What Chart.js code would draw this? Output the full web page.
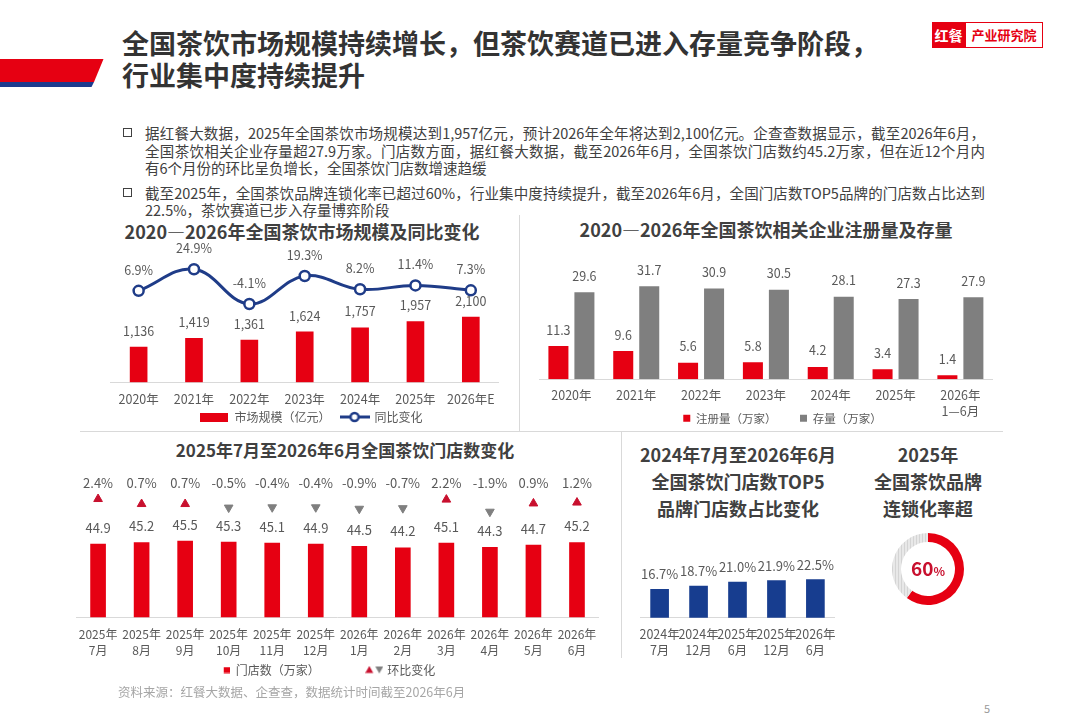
<!DOCTYPE html>
<html lang="zh-CN">
<head>
<meta charset="utf-8">
<title>全国茶饮市场规模持续增长</title>
<script src="https://cdn.jsdelivr.net/npm/chart.js@4.4.1/dist/chart.umd.min.js"></script>
<style>
  html, body { margin: 0; padding: 0; background: #fff; }
  #page { position: relative; width: 1080px; height: 719px; overflow: hidden;
          font-family: "Noto Sans CJK SC", "Noto Sans", sans-serif; color: #404040; }
  .abs { position: absolute; }
  .main-title { left: 122px; top: 27px; font-size: 27px; line-height: 32px; font-weight: 700; color: #333; white-space: nowrap; }
  .logo-red { left: 932px; top: 22px; width: 33px; height: 26px; background: #E60012; color: #fff;
              font-size: 14px; font-weight: 700; line-height: 26px; text-align: center; }
  .logo-txt { left: 965px; top: 22px; width: 76px; height: 24px; border: 1px solid #E60012; color: #E60012;
              font-size: 13px; font-weight: 700; line-height: 24px; text-align: center; }
  .line { left: 145px; width: 840px; height: 18px; line-height: 18px; font-size: 14.5px; white-space: nowrap; color: #404040; }
  .full { text-align: justify; text-align-last: justify; }
  .box { width: 7px; height: 7px; border: 1.5px solid #404040; }
  .ctitle { font-size: 18px; font-weight: 700; color: #404040; text-align: center; white-space: nowrap; line-height: 24px; }
  .chart { position: absolute; }
  .hline { height: 1px; background: #D9D9D9; }
  .vline { width: 1px; background: #D9D9D9; }
</style>
</head>
<body>
<div id="page">
  <svg class="abs" style="left:0;top:0" width="120" height="100">
    <polygon points="0,59 103.5,59 94,82 0,82" fill="#E60012"/>
    <polygon points="0,82 94,82 91.5,87 0,87" fill="#1D3B8E"/>
  </svg>
  <div class="abs main-title">全国茶饮市场规模持续增长，但茶饮赛道已进入存量竞争阶段，<br>行业集中度持续提升</div>
  <div class="abs logo-red">红餐</div>
  <div class="abs logo-txt">产业研究院</div>

  <div class="abs box" style="left:123px;top:128px"></div>
  <div class="abs line full" style="top:124px">据红餐大数据，2025年全国茶饮市场规模达到1,957亿元，预计2026年全年将达到2,100亿元。企查查数据显示，截至2026年6月，</div>
  <div class="abs line full" style="top:142px">全国茶饮相关企业存量超27.9万家。门店数方面，据红餐大数据，截至2026年6月，全国茶饮门店数约45.2万家，但在近12个月内</div>
  <div class="abs line" style="top:159px">有6个月份的环比呈负增长，全国茶饮门店数增速趋缓</div>
  <div class="abs box" style="left:123px;top:188px"></div>
  <div class="abs line full" style="top:184px">截至2025年，全国茶饮品牌连锁化率已超过60%，行业集中度持续提升，截至2026年6月，全国门店数TOP5品牌的门店数占比达到</div>
  <div class="abs line" style="top:201px">22.5%，茶饮赛道已步入存量博弈阶段</div>

  <div class="abs vline" style="left:519px;top:215px;height:216px"></div>
  <div class="abs hline" style="left:80px;top:431px;width:923px"></div>
  <div class="abs vline" style="left:621px;top:432px;height:226px"></div>

  <div class="abs ctitle" style="left:102px;top:219px;width:400px">2020—2026年全国茶饮市场规模及同比变化</div>
  <div class="abs ctitle" style="left:566px;top:217px;width:400px">2020—2026年全国茶饮相关企业注册量及存量</div>
  <div class="abs ctitle" style="left:145px;top:438px;width:400px;font-size:17px">2025年7月至2026年6月全国茶饮门店数变化</div>
  <div class="abs ctitle" style="left:638px;top:441px;width:200px;line-height:27px">2024年7月至2026年6月<br>全国茶饮门店数TOP5<br>品牌门店数占比变化</div>
  <div class="abs ctitle" style="left:828px;top:441px;width:200px;line-height:27px">2025年<br>全国茶饮品牌<br>连锁化率超</div>

  <div class="chart" style="left:109px;top:234px;width:405px;height:199px"><canvas id="c1"></canvas></div>
  <div class="chart" style="left:539px;top:250px;width:487px;height:184px"><canvas id="c2"></canvas></div>
  <div class="chart" style="left:46px;top:470px;width:559px;height:216px"><canvas id="c3"></canvas></div>
  <div class="chart" style="left:632px;top:545px;width:211px;height:125px"><canvas id="c4"></canvas></div>
  <div class="chart" style="left:892px;top:533px;width:72px;height:72px"><canvas id="c5"></canvas></div>

  <div class="abs" style="left:118px;top:683px;font-size:12.5px;line-height:18px;color:#A6A6A6;white-space:nowrap">资料来源：红餐大数据、企查查，数据统计时间截至2026年6月</div>
  <div class="abs" style="left:984px;top:700px;font-size:11px;line-height:16px;color:#999">5</div>
</div>

<script>
// 市场规模及同比
const years = ['2020年', '2021年', '2022年', '2023年', '2024年', '2025年', '2026年E'];
const marketSize = [1136, 1419, 1361, 1624, 1757, 1957, 2100];
const marketYoY = [6.9, 24.9, -4.1, 19.3, 8.2, 11.4, 7.3];

// 企业注册量及存量
const regYears = ['2020年', '2021年', '2022年', '2023年', '2024年', '2025年', ['2026年', '1—6月']];
const regNew = [11.3, 9.6, 5.6, 5.8, 4.2, 3.4, 1.4];
const regStock = [29.6, 31.7, 30.9, 30.5, 28.1, 27.3, 27.9];

// 门店数变化
const months = [['2025年', '7月'], ['2025年', '8月'], ['2025年', '9月'], ['2025年', '10月'], ['2025年', '11月'], ['2025年', '12月'],
                ['2026年', '1月'], ['2026年', '2月'], ['2026年', '3月'], ['2026年', '4月'], ['2026年', '5月'], ['2026年', '6月']];
const storeCount = [44.9, 45.2, 45.5, 45.3, 45.1, 44.9, 44.5, 44.2, 45.1, 44.3, 44.7, 45.2];
const storeMoM = [2.4, 0.7, 0.7, -0.5, -0.4, -0.4, -0.9, -0.7, 2.2, -1.9, 0.9, 1.2];

// TOP5 占比
const top5Periods = [['2024年', '7月'], ['2024年', '12月'], ['2025年', '6月'], ['2025年', '12月'], ['2026年', '6月']];
const top5Share = [16.7, 18.7, 21.0, 21.9, 22.5];

// 连锁化率
const chainRate = 60;

const RED = '#E60012';
const DARKRED = '#C8102E';
const NAVY = '#1F3C88';
const BLUE = '#173D8F';
const GRAY = '#7F7F7F';
const FONT = '"Noto Sans CJK SC", "Noto Sans", sans-serif';

Chart.defaults.font.family = FONT;
Chart.defaults.color = '#595959';
Chart.defaults.animation = false;
Chart.defaults.plugins.tooltip.enabled = false;

// 轴标签不按轴盒裁切（图例和第二行标签在原图里是重叠排布的）
Chart.register({
    id: 'noTickClip',
    afterLayout(chart) {
        Object.values(chart.scales).forEach(s => { s._computeLabelArea = () => undefined; });
    }
});

const fmtPct = v => v.toFixed(1) + '%';
const fmtNum = v => v.toLocaleString('en-US');
const fixH = h => axis => { axis.height = h; };
const fixW = w => axis => { axis.width = w; };

function makeCanvas(w, h, draw) {
    const c = document.createElement('canvas');
    c.width = w;
    c.height = h;
    draw(c.getContext('2d'));
    return c;
}

// 空白占位轴，只用来挪动图例中心
function spacer(position, w) {
    return { position, display: true, grid: { display: false, drawTicks: false }, border: { display: false },
             ticks: { display: false }, afterFit: fixW(w) };
}

function xAxis(size, lineHeight, padding, h) {
    return {
        grid: { display: false, drawTicks: false },
        border: { color: '#D9D9D9' },
        ticks: { font: { size, lineHeight }, padding, autoSkip: false, maxRotation: 0, minRotation: 0 },
        afterFit: fixH(h)
    };
}

// 数据标签
const valueLabels = {
    id: 'valueLabels',
    afterDatasetsDraw(chart) {
        const ctx = chart.ctx;
        chart.data.datasets.forEach((ds, i) => {
            const cfg = ds.valueLabel;
            if (!cfg) return;
            const meta = chart.getDatasetMeta(i);
            ctx.save();
            ctx.font = cfg.font || '13px ' + FONT;
            ctx.fillStyle = '#595959';
            ctx.textAlign = 'center';
            ctx.textBaseline = 'middle';
            meta.data.forEach((el, j) => {
                const y = cfg.top !== undefined ? chart.chartArea.top + cfg.top : el.y - cfg.offset;
                ctx.fillText(cfg.format(ds.data[j]), el.x, y);
            });
            ctx.restore();
        });
    }
};

function byIndex(extra) {
    return function (chart) {
        const items = Chart.defaults.plugins.legend.labels.generateLabels(chart);
        items.sort((a, b) => a.datasetIndex - b.datasetIndex);
        extra(items);
        return items;
    };
}

// 图一：市场规模及同比变化
const barKey1 = makeCanvas(28, 9, ctx => { ctx.fillStyle = RED; ctx.fillRect(0, 0, 28, 9); });
const lineKey1 = makeCanvas(30, 12, ctx => {
    ctx.strokeStyle = NAVY; ctx.lineWidth = 3;
    ctx.beginPath(); ctx.moveTo(0, 6); ctx.lineTo(30, 6); ctx.stroke();
    ctx.fillStyle = '#fff'; ctx.lineWidth = 2.5;
    ctx.beginPath(); ctx.arc(15, 6, 4, 0, Math.PI * 2); ctx.fill(); ctx.stroke();
});

new Chart(document.getElementById('c1'), {
    type: 'bar',
    data: {
        labels: years,
        datasets: [
            {
                label: '市场规模（亿元）', data: marketSize, yAxisID: 'y', order: 2,
                backgroundColor: RED, barThickness: 17,
                valueLabel: { offset: 16, format: fmtNum, font: '12.5px ' + FONT }
            },
            {
                label: '同比变化', type: 'line', data: marketYoY, yAxisID: 'y2', order: 1,
                borderColor: NAVY, borderWidth: 3, tension: 0.4,
                pointRadius: 5, pointBackgroundColor: '#fff', pointBorderColor: NAVY, pointBorderWidth: 2.5,
                valueLabel: { offset: 21, format: fmtPct, font: '12.5px ' + FONT }
            }
        ]
    },
    options: {
        responsive: true, maintainAspectRatio: false,
        layout: { autoPadding: false, padding: { top: 10 } },
        plugins: {
            legend: {
                position: 'bottom',
                labels: {
                    usePointStyle: true, pointStyleWidth: 28, padding: 10, color: '#595959',
                    font: { size: 12 },
                    generateLabels: byIndex(items => { items[0].pointStyle = barKey1; items[1].pointStyle = lineKey1; })
                }
            }
        },
        scales: {
            x: xAxis(12.5, 1.2, 9.5, 18.7),
            y: { display: false, min: 0, max: 4453 },
            y2: Object.assign(spacer('right', 15.5), { min: -69.5, max: 46.0 })
        }
    },
    plugins: [valueLabels]
});

// 图二：注册量及存量
new Chart(document.getElementById('c2'), {
    type: 'bar',
    data: {
        labels: regYears,
        datasets: [
            {
                label: '注册量（万家）', data: regNew, backgroundColor: RED, borderWidth: 0,
                categoryPercentage: 0.802, barPercentage: 0.77,
                valueLabel: { offset: 16.3, format: v => v.toFixed(1), font: '12.5px ' + FONT }
            },
            {
                label: '存量（万家）', data: regStock, backgroundColor: GRAY, borderWidth: 0,
                categoryPercentage: 0.802, barPercentage: 0.77,
                valueLabel: { offset: 16.3, format: v => v.toFixed(1), font: '12.5px ' + FONT }
            }
        ]
    },
    options: {
        responsive: true, maintainAspectRatio: false,
        layout: { autoPadding: false, padding: 0 },
        plugins: {
            legend: {
                position: 'bottom',
                labels: { boxWidth: 7, boxHeight: 7, padding: 23.45, color: '#595959', font: { size: 11.5 } }
            }
        },
        scales: {
            x: xAxis(12.5, 1.25, 8.2, 9.75),
            y: { display: false, min: 0, max: 44.0 },
            y2: spacer('right', 33.2)
        }
    },
    plugins: [valueLabels]
});

// 图三：门店数及环比
const barKey3 = makeCanvas(14, 7, ctx => { ctx.fillStyle = RED; ctx.fillRect(8, 0.5, 6, 6); });
const triKey3 = makeCanvas(18, 9, ctx => {
    ctx.fillStyle = DARKRED;
    ctx.beginPath(); ctx.moveTo(4, 0.5); ctx.lineTo(8, 7.5); ctx.lineTo(0, 7.5); ctx.closePath(); ctx.fill();
    ctx.fillStyle = GRAY;
    ctx.beginPath(); ctx.moveTo(10, 1); ctx.lineTo(18, 1); ctx.lineTo(14, 8); ctx.closePath(); ctx.fill();
});

new Chart(document.getElementById('c3'), {
    type: 'bar',
    data: {
        labels: months,
        datasets: [
            {
                label: '门店数（万家）', data: storeCount, yAxisID: 'y', order: 2,
                backgroundColor: RED, barThickness: 15,
                valueLabel: { offset: 16.5, format: v => v.toFixed(1), font: '13px ' + FONT }
            },
            {
                label: '环比变化', type: 'line', data: storeMoM, yAxisID: 'y2', order: 1,
                showLine: false, pointStyle: 'triangle', pointRadius: 5, pointBorderWidth: 1,
                pointRotation: storeMoM.map(v => v >= 0 ? 0 : 180),
                pointBackgroundColor: storeMoM.map(v => v >= 0 ? DARKRED : GRAY),
                pointBorderColor: storeMoM.map(v => v >= 0 ? DARKRED : GRAY),
                valueLabel: { top: -7.3, format: fmtPct, font: '13px ' + FONT }
            }
        ]
    },
    options: {
        responsive: true, maintainAspectRatio: false,
        layout: { autoPadding: false, padding: { top: 20 } },
        plugins: {
            legend: {
                position: 'bottom',
                labels: {
                    usePointStyle: true, pointStyleWidth: 14, padding: 17.6, color: '#595959',
                    font: { size: 12 },
                    generateLabels: byIndex(items => {
                        items[0].pointStyle = barKey3;
                        items[0].text += '\u3000\u3000\u3000';
                        items[1].pointStyle = triKey3;
                        items[1].rotation = 0;
                    })
                }
            }
        },
        scales: {
            x: xAxis(12, 1.33, 8.7, 29.1),
            y: Object.assign(spacer('left', 30.3), { min: 30.7, max: 55.42 }),
            y2: { display: false, min: -37.7, max: 5.46 }
        }
    },
    plugins: [valueLabels]
});

// 图四：TOP5 门店占比
new Chart(document.getElementById('c4'), {
    type: 'bar',
    data: {
        labels: top5Periods,
        datasets: [{
            label: 'TOP5品牌门店数占比', data: top5Share, backgroundColor: BLUE, barThickness: 18,
            valueLabel: { offset: 15, format: fmtPct, font: '13px ' + FONT }
        }]
    },
    options: {
        responsive: true, maintainAspectRatio: false,
        layout: { autoPadding: false, padding: 0 },
        plugins: { legend: { display: false } },
        scales: {
            x: xAxis(12.5, 1.28, 8.3, 52.3),
            y: { display: false, min: 0, max: 42.9 }
        }
    },
    plugins: [valueLabels]
});

// 图五：连锁化率环形图
const c5 = document.getElementById('c5');
const hatchTile = makeCanvas(3, 3, ctx => {
    ctx.fillStyle = '#E8E8E8'; ctx.fillRect(0, 0, 3, 3);
    ctx.fillStyle = '#D4D4D4'; ctx.fillRect(0, 0, 1, 3);
});
const hatch = c5.getContext('2d').createPattern(hatchTile, 'repeat');

const centerText = {
    id: 'centerText',
    afterDraw(chart) {
        const { ctx, chartArea: a } = chart;
        const cx = (a.left + a.right) / 2;
        const cy = (a.top + a.bottom) / 2;
        const num = String(chainRate);
        ctx.save();
        ctx.fillStyle = DARKRED;
        ctx.textBaseline = 'middle';
        ctx.textAlign = 'left';
        ctx.font = 'bold 19px ' + FONT;
        const w1 = ctx.measureText(num).width;
        ctx.font = 'bold 12px ' + FONT;
        const w2 = ctx.measureText('%').width;
        const x0 = cx - (w1 + w2) / 2;
        ctx.font = 'bold 19px ' + FONT;
        ctx.fillText(num, x0, cy);
        ctx.font = 'bold 12px ' + FONT;
        ctx.fillText('%', x0 + w1, cy + 2);
        ctx.restore();
    }
};

new Chart(c5, {
    type: 'doughnut',
    data: {
        labels: ['连锁化率', '其他'],
        datasets: [{ data: [chainRate, 100 - chainRate], backgroundColor: [RED, hatch], borderWidth: 0 }]
    },
    options: {
        responsive: true, maintainAspectRatio: false,
        cutout: '75%',
        layout: { padding: 0 },
        plugins: { legend: { display: false } }
    },
    plugins: [centerText]
});
</script>
</body>
</html>
